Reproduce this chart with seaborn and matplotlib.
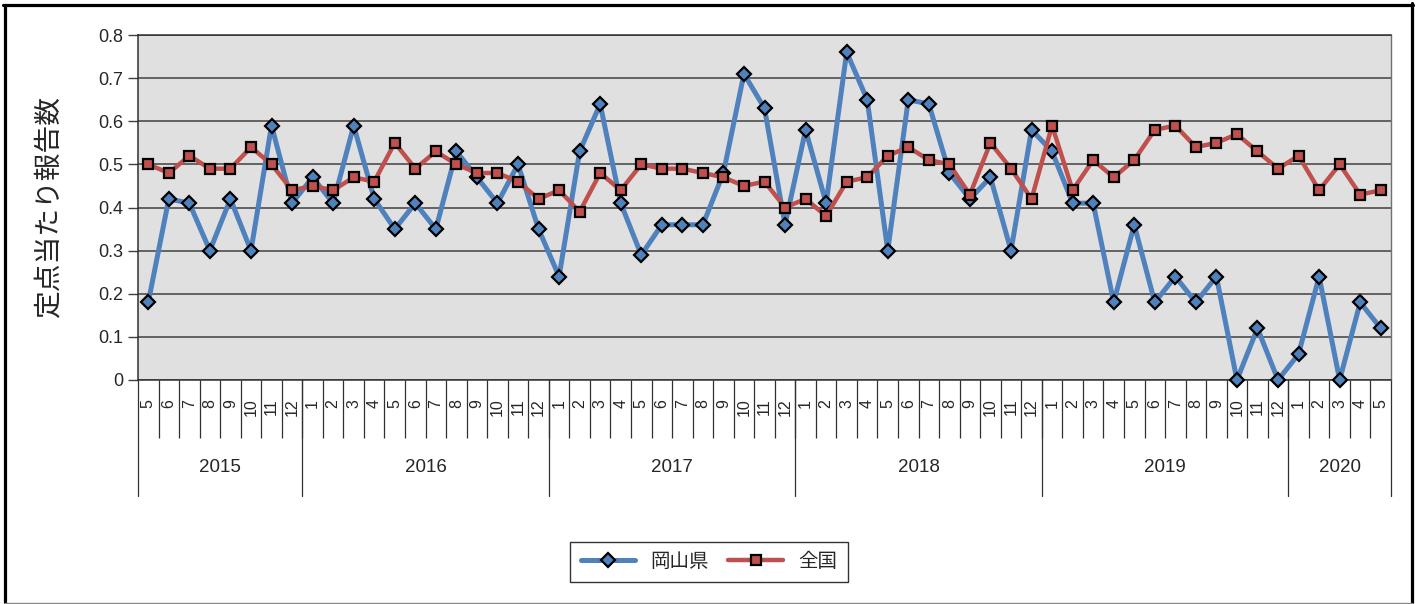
import numpy as np
import pandas as pd
import matplotlib
matplotlib.use("Agg")
import matplotlib.pyplot as plt
import matplotlib.transforms as mtransforms
from matplotlib.lines import Line2D
import seaborn as sns

# month labels, 2015-05 .. 2020-05
months = ["5", "6", "7", "8", "9", "10", "11", "12",
          "1", "2", "3", "4", "5", "6", "7", "8", "9", "10", "11", "12",
          "1", "2", "3", "4", "5", "6", "7", "8", "9", "10", "11", "12",
          "1", "2", "3", "4", "5", "6", "7", "8", "9", "10", "11", "12",
          "1", "2", "3", "4", "5", "6", "7", "8", "9", "10", "11", "12",
          "1", "2", "3", "4", "5"]
years = ["2015", "2016", "2017", "2018", "2019", "2020"]
year_counts = [8, 12, 12, 12, 12, 5]

okayama = [0.18, 0.42, 0.41, 0.30, 0.42, 0.30, 0.59, 0.41,
           0.47, 0.41, 0.59, 0.42, 0.35, 0.41, 0.35, 0.53, 0.47, 0.41, 0.50, 0.35,
           0.24, 0.53, 0.64, 0.41, 0.29, 0.36, 0.36, 0.36, 0.48, 0.71, 0.63, 0.36,
           0.58, 0.41, 0.76, 0.65, 0.30, 0.65, 0.64, 0.48, 0.42, 0.47, 0.30, 0.58,
           0.53, 0.41, 0.41, 0.18, 0.36, 0.18, 0.24, 0.18, 0.24, 0.00, 0.12, 0.00,
           0.06, 0.24, 0.00, 0.18, 0.12]
national = [0.50, 0.48, 0.52, 0.49, 0.49, 0.54, 0.50, 0.44,
            0.45, 0.44, 0.47, 0.46, 0.55, 0.49, 0.53, 0.50, 0.48, 0.48, 0.46, 0.42,
            0.44, 0.39, 0.48, 0.44, 0.50, 0.49, 0.49, 0.48, 0.47, 0.45, 0.46, 0.40,
            0.42, 0.38, 0.46, 0.47, 0.52, 0.54, 0.51, 0.50, 0.43, 0.55, 0.49, 0.42,
            0.59, 0.44, 0.51, 0.47, 0.51, 0.58, 0.59, 0.54, 0.55, 0.57, 0.53, 0.49,
            0.52, 0.44, 0.50, 0.43, 0.44]

sns.set_style("white")
plt.rcParams["font.family"] = ["Liberation Sans", "Noto Sans CJK JP", "DejaVu Sans"]

pos = np.arange(len(months))
df = pd.DataFrame({"pos": pos, "岡山県": okayama, "全国": national})

W, H = 1422, 604
fig = plt.figure(figsize=(W / 100, H / 100), dpi=100)
# plot area in pixels: x 138..1391, y 35..380
ax = fig.add_axes([138 / W, 1 - 380 / H, (1391 - 138) / W, 345 / H])
ax.set_facecolor("#e0e0e0")

blue = "#4f81bd"
red = "#c0504d"
sns.lineplot(data=df, x="pos", y="岡山県", ax=ax, color=blue, lw=3.6,
             marker="D", markersize=6.8, markerfacecolor=blue,
             markeredgecolor="black", markeredgewidth=1.6, clip_on=False,
             label="岡山県", zorder=3)
sns.lineplot(data=df, x="pos", y="全国", ax=ax, color=red, lw=3.2,
             marker="s", markersize=7.8, markerfacecolor=red,
             markeredgecolor="black", markeredgewidth=1.6, clip_on=False,
             label="全国", zorder=4)
if ax.get_legend() is not None:
    ax.get_legend().remove()

ax.set_xlim(-0.5, len(months) - 0.5)
ax.set_ylim(0, 0.8)
yt = np.round(np.arange(0, 0.81, 0.1), 1)
ax.set_yticks(yt, labels=["0"] + [f"{v:.1f}" for v in yt[1:]])
ax.grid(axis="y", color="#404040", lw=1.1)
ax.set_axisbelow(True)
ax.tick_params(axis="y", length=7, width=1, color="#404040", pad=3.5,
               labelsize=13, left=True)

for side in ["left", "bottom", "top"]:
    ax.spines[side].set_color("#303030")
    ax.spines[side].set_linewidth(1.1)
ax.spines["right"].set_color("#707070")
ax.spines["right"].set_linewidth(1)

# month labels + cell separators
ax.set_xticks(pos, labels=months, rotation=90)
ax.tick_params(axis="x", which="major", length=0, pad=13.5, labelsize=11.5,
               bottom=True)
ax.set_xticks(pos[:-1] + 0.5, minor=True)
ax.tick_params(axis="x", which="minor", length=42, width=0.9,
               color="#303030", direction="out", bottom=True)
ax.set_xlabel("")
ax.set_ylabel("定点当たり報告数", fontsize=20)
ax.yaxis.set_label_coords(-0.06, 0.5)

# year labels and separators
trans = mtransforms.blended_transform_factory(ax.transData, ax.transAxes)
y_line = -(496 - 380) / 345
y_text = -(468 - 380) / 345
start = -0.5
for label, n in zip(years, year_counts):
    ax.plot([start, start], [0, y_line], transform=trans, color="#303030",
            lw=0.9, clip_on=False)
    ax.text(start + n / 2, y_text, label, transform=trans, ha="center",
            va="center", fontsize=13.5)
    start += n
ax.plot([start, start], [0, y_line], transform=trans, color="#303030",
        lw=0.9, clip_on=False)

# legend
handles = [
    Line2D([], [], color=blue, lw=3.6, marker="D", markersize=6.8,
           markerfacecolor=blue, markeredgecolor="black", markeredgewidth=1.6),
    Line2D([], [], color=red, lw=3.2, marker="s", markersize=7.8,
           markerfacecolor=red, markeredgecolor="black", markeredgewidth=1.6),
]
leg = fig.legend(handles, ["岡山県", "全国"], loc="center",
                 bbox_to_anchor=(709 / W, 1 - 562 / H), ncol=2, fontsize=14,
                 frameon=True, fancybox=False, edgecolor="black",
                 handlelength=2.8, handletextpad=0.8, columnspacing=1.0,
                 borderpad=0.55)
leg.get_frame().set_linewidth(1)

# outer border of the chart
fig.add_artist(Line2D([4.5 / W, 4.5 / W], [1 - 4.5 / H, 1 - 602 / H],
                      transform=fig.transFigure, color="black", lw=2.3))
fig.add_artist(Line2D([3 / W, 1413 / W], [1 - 4.5 / H, 1 - 4.5 / H],
                      transform=fig.transFigure, color="black", lw=2.3))
fig.add_artist(Line2D([1411.5 / W, 1411.5 / W], [1 - 3 / H, 1 - 602 / H],
                      transform=fig.transFigure, color="black", lw=2.3))
fig.add_artist(Line2D([4.5 / W, 1411.5 / W], [1 - 602.5 / H, 1 - 602.5 / H],
                      transform=fig.transFigure, color="#888888", lw=1))

fig.savefig("out.png", dpi=100)
